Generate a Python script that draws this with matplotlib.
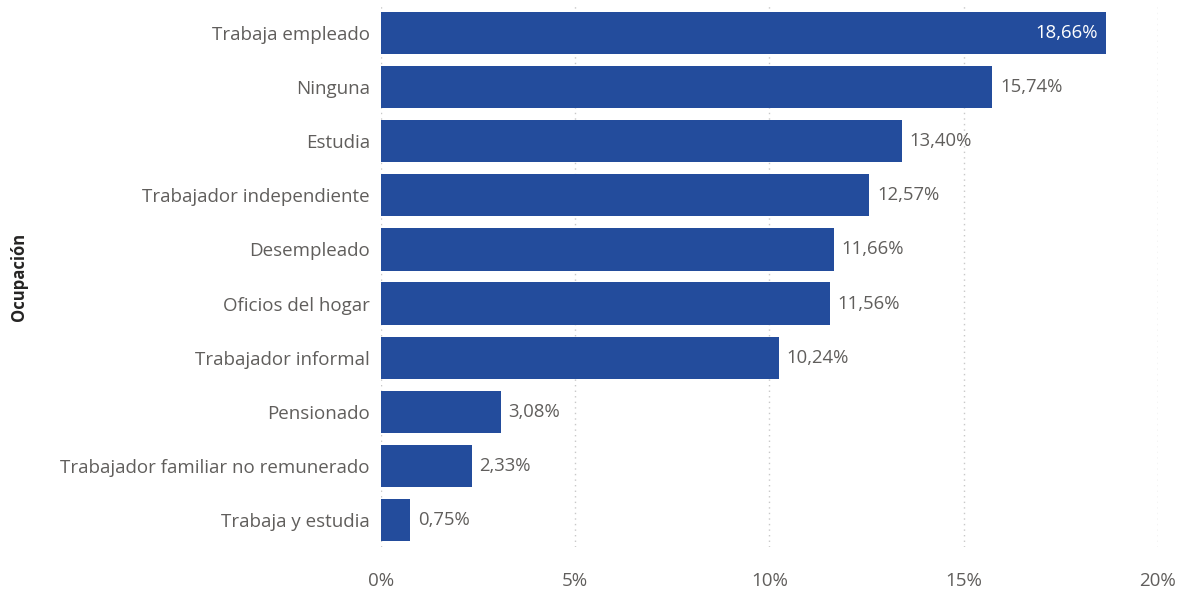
import matplotlib.pyplot as plt

categorias = ["Trabaja empleado", "Ninguna", "Estudia", "Trabajador independiente",
              "Desempleado", "Oficios del hogar", "Trabajador informal", "Pensionado",
              "Trabajador familiar no remunerado", "Trabaja y estudia"]
porcentajes = [18.66, 15.74, 13.40, 12.57, 11.66, 11.56, 10.24, 3.08, 2.33, 0.75]
ticks = [0, 5, 10, 15, 20]

plt.rcParams['font.family'] = ['Open Sans', 'DejaVu Sans']
gris = "#605E5C"
azul = "#234C9C"

fig = plt.figure(figsize=(11.84, 5.92), dpi=100)
ax = fig.add_axes([0.3218, 0.076, 0.978 - 0.3218, 0.9899 - 0.076])

pos = list(range(len(categorias)))
ax.barh(pos, porcentajes, height=0.78, color=azul, zorder=2)
ax.set_ylim(len(categorias) - 0.5, -0.5)
ax.set_xlim(0, 20)

for p, v in zip(pos, porcentajes):
    txt = f"{v:.2f}%".replace(".", ",")
    if v > 18:
        ax.text(v - 0.2, p, txt, ha="right", va="center", color="white", fontsize=13.3)
    else:
        ax.text(v + 0.2, p, txt, ha="left", va="center", color=gris, fontsize=13.3)

ax.set_yticks(pos)
ax.set_yticklabels(categorias, fontsize=13.5, color=gris)
ax.set_xticks(ticks)
ax.set_xticklabels([f"{t}%" for t in ticks], fontsize=13.5, color=gris)
ax.tick_params(length=0)
ax.tick_params(axis="y", pad=8)
ax.tick_params(axis="x", pad=18)
ax.grid(axis="x", linestyle=(0, (1, 3)), color="#C8C8C8", linewidth=1, zorder=0)
for s in ax.spines.values():
    s.set_visible(False)

fig.text(0.016, 0.532, "Ocupación", rotation=90, ha="center", va="center",
         fontsize=12, fontweight="bold", color="#252423")

fig.savefig("out.png", dpi=100)
